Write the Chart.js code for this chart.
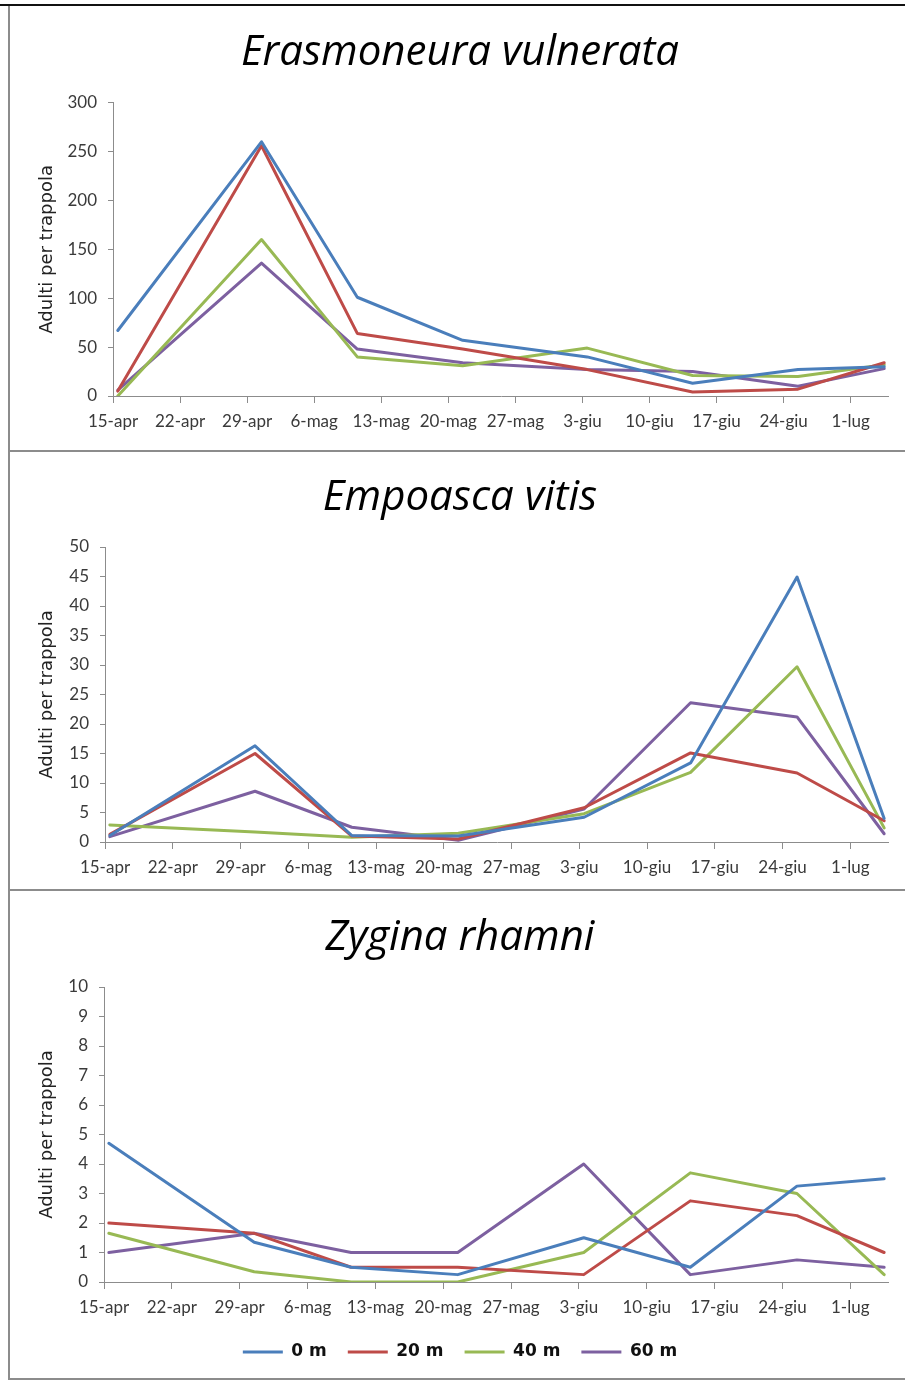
<!DOCTYPE html>
<html lang="it">
<head>
<meta charset="utf-8">
<title>Adulti per trappola</title>
<script src="https://cdn.jsdelivr.net/npm/chart.js@4.4.1/dist/chart.umd.min.js"></script>
<style>
  html, body { margin: 0; padding: 0; background: #fff; }
  body { width: 905px; height: 1383px; position: relative; overflow: hidden; }
  .topline { position: absolute; left: 0; top: 4px; width: 905px; height: 2px; background: #111; }
  .frame { position: absolute; left: 8px; top: 6px; width: 897px; height: 1372px;
           border-left: 2px solid #8c8c8c; border-bottom: 2px solid #8c8c8c; }
  .sep { position: absolute; left: 8px; width: 897px; height: 2px; background: #8c8c8c; }
  canvas { position: absolute; left: 31px; }
</style>
</head>
<body>
<div class="topline"></div>
<div class="frame"></div>
<div class="sep" style="top:450px"></div>
<div class="sep" style="top:889px"></div>
<canvas id="chartErasmoneura" width="858" height="444" style="top:6px"></canvas>
<canvas id="chartEmpoasca" width="858" height="437" style="top:452px"></canvas>
<canvas id="chartZygina" width="858" height="488" style="top:891px"></canvas>

<script>
// Date dei campionamenti (l'anno non compare nel grafico)
const sampleDates = ['2013-04-15', '2013-04-30', '2013-05-10', '2013-05-21',
                     '2013-06-03', '2013-06-14', '2013-06-25', '2013-07-04'];
const tickLabels = ['15-apr', '22-apr', '29-apr', '6-mag', '13-mag', '20-mag',
                    '27-mag', '3-giu', '10-giu', '17-giu', '24-giu', '1-lug'];
const distances = ['0 m', '20 m', '40 m', '60 m'];

// Erasmoneura vulnerata
const erasmoneura0m  = [67, 260, 101, 57, 40, 13, 27, 30];
const erasmoneura20m = [5, 256, 64, 48, 27, 4, 7, 34];
const erasmoneura40m = [0, 160, 40, 31, 49, 21, 20, 32];
const erasmoneura60m = [6, 136, 48, 34, 27, 25, 10, 28];
const erasmoneuraTicks = [0, 50, 100, 150, 200, 250, 300];

// Empoasca vitis
const empoasca0m  = [1.1, 16.3, 1.1, 1.0, 4.2, 13.4, 44.9, 4.0];
const empoasca20m = [1.3, 15.0, 1.0, 0.5, 5.8, 15.1, 11.7, 3.6];
const empoasca40m = [2.9, 1.7, 0.8, 1.5, 4.8, 11.8, 29.7, 2.4];
const empoasca60m = [0.9, 8.6, 2.5, 0.3, 5.6, 23.6, 21.2, 1.4];
const empoascaTicks = [0, 5, 10, 15, 20, 25, 30, 35, 40, 45, 50];

// Zygina rhamni
const zygina0m  = [4.7, 1.35, 0.5, 0.25, 1.5, 0.5, 3.25, 3.5];
const zygina20m = [2.0, 1.65, 0.5, 0.5, 0.25, 2.75, 2.25, 1.0];
const zygina40m = [1.65, 0.35, 0, 0, 1.0, 3.7, 3.0, 0.25];
const zygina60m = [1.0, 1.65, 1.0, 1.0, 4.0, 0.25, 0.75, 0.5];
const zyginaTicks = [0, 1, 2, 3, 4, 5, 6, 7, 8, 9, 10];

const lineColors = ['#4a7ebb', '#be4b48', '#98b954', '#7d60a0'];
const axisGrey = '#8c8c8c';
const labelGrey = '#3a3a3a';

// asse delle date in giorni dal primo campionamento
const DAY = 86400000;
const startTime = Date.parse(sampleDates[0]);
const dayOf = (iso) => (Date.parse(iso) - startTime) / DAY;
const axisEnd = dayOf(sampleDates[sampleDates.length - 1]) + 1;

function buildPanel(canvasId, title, series, yTicks, box) {
    const ctx = document.getElementById(canvasId).getContext('2d');
    const datasets = series.map((values, s) => ({
        label: distances[s],
        // punto al centro del giorno, come l'asse data di Excel
        data: values.map((v, i) => ({ x: dayOf(sampleDates[i]) + 0.5, y: v })),
        borderColor: lineColors[s],
        backgroundColor: lineColors[s],
        borderWidth: 3,
        pointRadius: 0,
        tension: 0,
        borderJoinStyle: 'round',
        borderCapStyle: 'round'
    }));

    return new Chart(ctx, {
        type: 'line',
        data: { datasets: datasets },
        options: {
            responsive: false,
            animation: false,
            devicePixelRatio: 1,
            layout: { padding: { left: 0, right: 0, top: 0, bottom: box.padBottom } },
            plugins: {
                tooltip: { enabled: false },
                title: {
                    display: true,
                    text: title,
                    color: '#000',
                    font: { family: 'Open Sans', style: 'italic', weight: 'normal', size: 42, lineHeight: 1.2 },
                    padding: { top: box.titleTop, bottom: box.titleBottom }
                },
                legend: {
                    display: box.legend,
                    position: 'bottom',
                    labels: {
                        usePointStyle: true,
                        pointStyle: 'line',
                        pointStyleWidth: 40,
                        padding: 21,
                        color: '#111',
                        font: { family: 'DejaVu Sans', weight: 'bold', size: 17 }
                    }
                }
            },
            scales: {
                x: {
                    type: 'linear',
                    min: 0,
                    max: axisEnd,
                    afterBuildTicks: (scale) => {
                        scale.ticks = tickLabels.map((_, i) => ({ value: i * 7 }));
                    },
                    afterFit: (scale) => { scale.height = box.xHeight; },
                    ticks: {
                        autoSkip: false,
                        maxRotation: 0,
                        padding: 8,
                        color: labelGrey,
                        font: { family: 'Lato', size: 17 },
                        callback: (value, index) => tickLabels[index]
                    },
                    grid: { drawOnChartArea: false, tickLength: 7, color: axisGrey },
                    border: { color: axisGrey, width: 1 }
                },
                y: {
                    min: yTicks[0],
                    max: yTicks[yTicks.length - 1],
                    afterBuildTicks: (scale) => {
                        scale.ticks = yTicks.map(v => ({ value: v }));
                    },
                    afterFit: (scale) => { scale.width = box.yWidth; },
                    ticks: {
                        padding: 11,
                        color: labelGrey,
                        font: { family: 'Lato', size: 17 }
                    },
                    grid: { drawOnChartArea: false, tickLength: 5, color: axisGrey },
                    border: { color: axisGrey, width: 1 },
                    title: {
                        display: true,
                        text: 'Adulti per trappola',
                        color: '#222',
                        font: { family: 'DejaVu Sans', size: 18, lineHeight: 1.2 },
                        padding: { top: 5.7, bottom: 0 }
                    }
                }
            }
        }
    });
}

buildPanel('chartErasmoneura', 'Erasmoneura vulnerata',
    [erasmoneura0m, erasmoneura20m, erasmoneura40m, erasmoneura60m], erasmoneuraTicks,
    { yWidth: 82, xHeight: 54, padBottom: 0, titleTop: 21.8, titleBottom: 24.5, legend: false });

buildPanel('chartEmpoasca', 'Empoasca vitis',
    [empoasca0m, empoasca20m, empoasca40m, empoasca60m], empoascaTicks,
    { yWidth: 74, xHeight: 47, padBottom: 0, titleTop: 20.8, titleBottom: 23.8, legend: false });

buildPanel('chartZygina', 'Zygina rhamni',
    [zygina0m, zygina20m, zygina40m, zygina60m], zyginaTicks,
    { yWidth: 73, xHeight: 40.5, padBottom: 8.5, titleTop: 21.8, titleBottom: 23.8, legend: true });
</script>
</body>
</html>
